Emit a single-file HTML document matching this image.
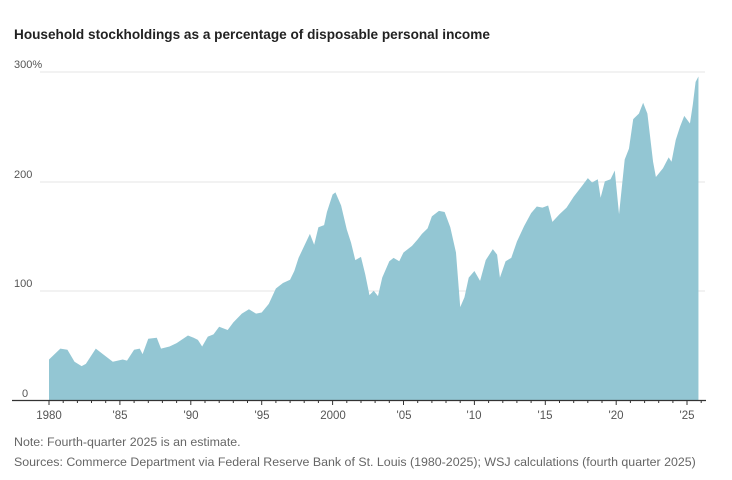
<!DOCTYPE html>
<html><head><meta charset="utf-8"><style>
body{margin:0;background:#fff;width:732px;height:475px;overflow:hidden;font-family:"Liberation Sans",sans-serif}
</style></head><body>
<svg width="732" height="475" xmlns="http://www.w3.org/2000/svg" font-family="Liberation Sans, sans-serif">
<text x="14" y="39" font-size="13.6" font-weight="bold" fill="#222">Household stockholdings as a percentage of disposable personal income</text>
<g stroke="#e4e4e4" stroke-width="1">
<line x1="40" y1="72" x2="705" y2="72"/>
<line x1="40" y1="182" x2="705" y2="182"/>
<line x1="40" y1="291" x2="705" y2="291"/>
</g>
<g font-size="11" fill="#555">
<text x="14" y="68">300%</text>
<text x="14" y="178">200</text>
<text x="14" y="287">100</text>
<text x="22" y="397">0</text>
</g>
<g transform="translate(49,400) scale(14.18,-1.093)">
<polygon fill="#93c6d3" points="0,0 0,37 0.8,47 1.3,46 1.8,35 2.3,31 2.6,33 3.3,47 3.8,42 4.5,35 5.2,37 5.5,36 6,46 6.4,47 6.6,42 7,56 7.6,57 7.9,47 8.5,49 9,52 9.8,59 10.2,57 10.5,55 10.8,49 11.2,58 11.6,60 12,67 12.6,64 13,71 13.6,79 14.1,83 14.6,79 15,80 15.5,88 16,102 16.5,107 17,110 17.3,118 17.6,130 18,141 18.4,152 18.7,142 19,158 19.4,160 19.6,172 20,188 20.2,190 20.6,178 21,156 21.3,144 21.6,128 22,131 22.3,115 22.6,96 22.9,100 23.2,95 23.5,112 24,127 24.3,130 24.7,127 25,135 25.6,141 26,147 26.3,152 26.7,157 27,168 27.5,173 27.9,172 28.3,158 28.7,135 29,85 29.3,94 29.6,112 30,118 30.4,109 30.8,128 31.3,138 31.6,133 31.8,112 32.2,127 32.6,130 33,145 33.5,159 34,171 34.4,177 34.8,176 35.2,178 35.5,163 36,170 36.5,176 37,186 37.6,196 38,203 38.3,199 38.7,202 38.9,185 39.2,200 39.6,202 39.9,210 40.2,170 40.6,220 40.9,230 41.2,257 41.6,262 41.9,272 42.2,262 42.6,218 42.8,204 43.3,212 43.7,222 43.9,218 44.2,238 44.5,250 44.8,260 45.2,253 45.4,270 45.6,291 45.8,296 45.8,0"/>
</g>
<line x1="12" y1="400.5" x2="706" y2="400.5" stroke="#333" stroke-width="1.2"/>
<g stroke="#333" stroke-width="1">
<path d="M49,400v5M63.2,400v3M77.4,400v3M91.5,400v3M105.7,400v3M119.9,400v5M134.1,400v3M148.3,400v3M162.4,400v3M176.6,400v3M190.8,400v5M205,400v3M219.2,400v3M233.3,400v3M247.5,400v3M261.7,400v5M275.9,400v3M290.1,400v3M304.2,400v3M318.4,400v3M332.6,400v5M346.8,400v3M361,400v3M375.1,400v3M389.3,400v3M403.5,400v5M417.7,400v3M431.9,400v3M446,400v3M460.2,400v3M474.4,400v5M488.6,400v3M502.8,400v3M516.9,400v3M531.1,400v3M545.3,400v5M559.5,400v3M573.7,400v3M587.8,400v3M602,400v3M616.2,400v5M630.4,400v3M644.6,400v3M658.7,400v3M672.9,400v3M687,400v5M701.2,400v3"/>
</g>
<g font-size="11.5" fill="#555" text-anchor="middle">
<text x="49" y="419">1980</text><text x="120" y="419">'85</text><text x="191" y="419">'90</text><text x="262" y="419">'95</text><text x="333" y="419">2000</text><text x="404" y="419">'05</text><text x="474" y="419">'10</text><text x="545" y="419">'15</text><text x="616" y="419">'20</text><text x="687" y="419">'25</text>
</g>
<g font-size="12.4" fill="#666">
<text x="14" y="446">Note: Fourth-quarter 2025 is an estimate.</text>
<text x="14" y="466">Sources: Commerce Department via Federal Reserve Bank of St. Louis (1980-2025); WSJ calculations (fourth quarter 2025)</text>
</g>
</svg>
</body></html>
